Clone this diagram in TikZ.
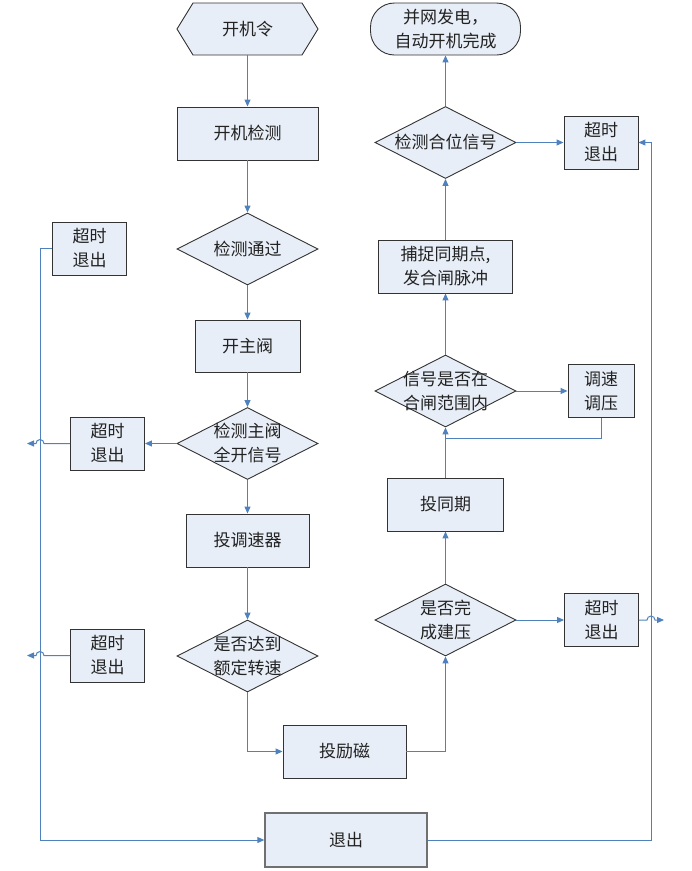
\documentclass[tikz,border=0pt]{standalone}
\usepackage{fontspec}
\newfontfamily\cjk{Noto Sans CJK SC}
\usetikzlibrary{arrows.meta,shapes.geometric}
\definecolor{lineblue}{RGB}{79,129,189}
\definecolor{boxfill}{RGB}{232,238,247}
\definecolor{boxline}{RGB}{51,51,51}
\definecolor{exitline}{RGB}{112,112,112}
\definecolor{textgray}{RGB}{34,34,34}
\newcommand\cjkfs{\cjk\fontsize{17}{24}\selectfont}
\tikzset{
  base/.style={font=\cjkfs, text=textgray, align=center, inner sep=0pt},
  proc/.style={base, rectangle, draw=boxline, fill=boxfill, line width=0.9pt},
  dec/.style={base, diamond, draw=boxline, fill=boxfill, line width=0.9pt,
    minimum width=141pt, minimum height=72pt, inner sep=-16pt},
  tobox/.style={proc, minimum width=74pt, minimum height=53pt},
  conn/.style={draw=lineblue, line width=1pt, -{Triangle[length=7pt,width=6pt]}},
  wire/.style={draw=lineblue, line width=1pt},
}
\begin{document}
\begin{tikzpicture}[x=1pt,y=-1pt]
\path[use as bounding box] (0,0) rectangle (692,871);
% start hexagon
\draw[boxline, fill=boxfill, line width=0.9pt]
  (177,29) -- (193,3) -- (302,3) -- (318,29) -- (302,55) -- (193,55) -- cycle;
\node[base, minimum width=141pt, minimum height=52pt] (start) at (247.5,29) {开机令};
% left column
\node[proc, minimum width=141pt, minimum height=53pt] (kjjc) at (247.5,133.5) {开机检测};
\node[dec] (d1) at (247.5,249) {检测通过};
\node[proc, minimum width=105pt, minimum height=52pt] (kzf) at (247.5,346) {开主阀};
\node[dec] (d2) at (247.5,443.5) {检测主阀\\全开信号};
\node[proc, minimum width=123pt, minimum height=53pt] (tts) at (247.5,540.5) {投调速器};
\node[dec] (d3) at (247.5,656) {是否达到\\额定转速};
\node[proc, minimum width=123pt, minimum height=53pt] (tlc) at (344.5,751.5) {投励磁};
\node[proc, draw=exitline, line width=1.3pt, minimum width=162pt, minimum height=54pt] (tc) at (346,840) {退出};
% right column
\node[dec] (d4) at (445.5,620) {是否完\\成建压};
\node[proc, minimum width=116pt, minimum height=53pt] (ttq) at (445.5,504.5) {投同期};
\node[dec] (d5) at (445.5,391) {信号是否在\\合闸范围内};
\node[proc, minimum width=66pt, minimum height=53pt] (tstz) at (601,391) {调速\\调压};
\node[proc, minimum width=134pt, minimum height=53pt] (bz) at (445.5,266.5) {捕捉同期点,\\发合闸脉冲};
\node[dec] (d6) at (445.5,142.5) {检测合位信号};
\node[proc, rounded corners=24pt, minimum width=150pt, minimum height=52pt] (fin) at (445.5,29) {并网发电，\\自动开机完成};
% timeout boxes
\node[tobox] (to1) at (89.5,248.5) {超时\\退出};
\node[tobox] (to2) at (107.5,443.5) {超时\\退出};
\node[tobox] (to3) at (107.5,655.5) {超时\\退出};
\node[tobox] (to4) at (601.5,620) {超时\\退出};
\node[tobox] (to5) at (601,142.5) {超时\\退出};
% coordinates
\coordinate (j1) at (445.5,438);
\coordinate (h2) at (27,443.5);
\coordinate (h3) at (27,655.5);
\coordinate (h4) at (664,620);
\coordinate (lc) at (40,248.5);
\coordinate (rc) at (651,142.5);
% main flow
\draw[conn] (start) -- (kjjc);
\draw[conn] (kjjc) -- (d1);
\draw[conn] (d1) -- (kzf);
\draw[conn] (kzf) -- (d2);
\draw[conn] (d2) -- (tts);
\draw[conn] (tts) -- (d3);
\draw[conn] (d3.south) |- (tlc.west);
\draw[conn] (tlc.east) -| (d4.south);
\draw[conn] (d4.north) -- (ttq.south);
\draw[conn] (ttq.north) -- (d5.south);
\draw[conn] (d5.east) -- (tstz.west);
\draw[wire] (tstz.south) |- (j1);
\draw[conn] (d5.north) -- (bz.south);
\draw[conn] (bz.north) -- (d6.south);
\draw[conn] (d6.north) -- (fin.south);
\draw[conn] (d6.east) -- (to5.west);
\draw[conn] (d2.west) -- (to2.east);
\draw[conn] (d4.east) -- (to4.west);
% exit lines
\draw[conn] (to1.west) -- (lc) |- (tc.west);
\draw[conn] (tc.east) -| (rc) -- (to5.east);
\draw[conn] (to2.west) -- (44,443.5) arc[start angle=0,end angle=180,radius=4pt] -- (h2);
\draw[conn] (to3.west) -- (44,655.5) arc[start angle=0,end angle=180,radius=4pt] -- (h3);
\draw[conn] (to4.east) -- (647,620) arc[start angle=180,end angle=0,radius=4pt] -- (h4);
\end{tikzpicture}
\end{document}
